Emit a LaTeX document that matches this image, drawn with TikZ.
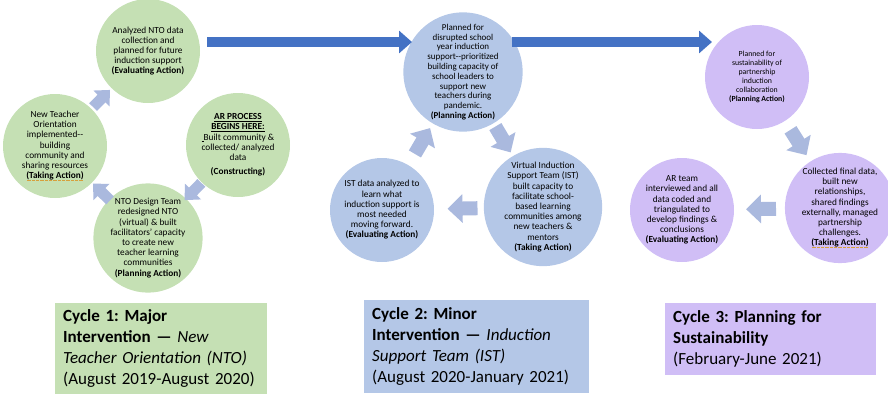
\documentclass[tikz,border=0pt]{standalone}
\usepackage{fontspec}
\setmainfont{Carlito}
\usetikzlibrary{arrows.meta,calc}
\frenchspacing

\definecolor{cyclegreen}{RGB}{197,224,180}
\definecolor{cycleblue}{RGB}{180,199,231}
\definecolor{cyclepurple}{RGB}{208,190,246}
\definecolor{flowblue}{RGB}{68,114,196}
\definecolor{stepgrey}{RGB}{170,185,222}
\definecolor{spellmark}{RGB}{214,160,60}

% dotted squiggle under a word
\newsavebox\spellbox
\newcommand{\spellcheck}[1]{\sbox\spellbox{#1}%
  \rlap{\raisebox{-2.2pt}{\color{spellmark}\hbox to \wd\spellbox{\leaders\hbox to 1.3pt{\hss\rule{0.7pt}{0.7pt}\hss}\hfill}}}%
  \usebox\spellbox}

\tikzset{
  stage/.style={circle, minimum size=104pt, inner sep=0pt, align=center,
    font=\fontsize{9.3}{10.2}\selectfont},
  cyclebox/.style={anchor=north west, inner xsep=8pt, inner ysep=0pt, align=left,
    font=\fontsize{17}{21}\selectfont},
  flowarrow/.style={draw=flowblue, line width=10pt, -{Triangle[length=13pt, width=22pt]}},
  steparrow/.style={draw=stepgrey, line width=14pt, -{Triangle[length=15pt, width=28pt]},
    to path={($(\tikztostart)!0.5!(\tikztotarget)!15pt!(\tikztostart)$)
      -- ($(\tikztostart)!0.5!(\tikztotarget)!15pt!(\tikztotarget)$)}},
  smallsteparrow/.style={steparrow, line width=11pt, -{Triangle[length=12pt, width=22pt]},
    to path={($(\tikztostart)!0.5!(\tikztotarget)!12pt!(\tikztostart)$)
      -- ($(\tikztostart)!0.5!(\tikztotarget)!12pt!(\tikztotarget)$)}}
}

\begin{document}
\begin{tikzpicture}[x=1pt, y=-1pt]
\useasboundingbox (0,0) rectangle (888,394);

% cycle 1
\node[stage, fill=cyclegreen] (c1t) at (148,51) {Analyzed NTO data\\collection and\\planned for future\\induction support\\\textbf{(Evaluating Action)}};
\node[stage, fill=cyclegreen] (c1r) at (238,145) {\textbf{\underline{AR PROCESS}}\\\textbf{\underline{BEGINS HERE:}}\\\underline{\hspace{2pt}}Built community \&\\collected/ analyzed\\data\\[4pt]\textbf{(Constructing)}};
\node[stage, fill=cyclegreen] (c1l) at (55,146) {New Teacher\\Orientation\\implemented-{}-\\building\\community and\\sharing resources\\\spellcheck{\textbf{(Taking Action)}}};
\node[stage, fill=cyclegreen] (c1b) at (148,238) {NTO Design Team\\redesigned NTO\\(virtual) \& built\\facilitators' capacity\\to create new\\teacher learning\\communities\\\textbf{(Planning Action)}};

\draw[smallsteparrow] (c1r) to (c1b);
\draw[smallsteparrow] (c1b) to (c1l);
\draw[smallsteparrow] (c1l) to (c1t);

% cycle 2
\node[stage, fill=cycleblue, font=\fontsize{9}{9.8}\selectfont] (c2t) at (463,72) {Planned for\\disrupted school\\year induction\\support-{}-prioritized\\building capacity of\\school leaders to\\support new\\teachers during\\pandemic.\\\textbf{(Planning Action)}};
\node[stage, fill=cycleblue] (c2r) at (543,207) {Virtual Induction\\Support Team (IST)\\built capacity to\\facilitate school-\\based learning\\communities among\\new teachers \&\\mentors\\\textbf{(Taking Action)}};
\node[stage, fill=cycleblue] (c2l) at (382,210) {IST data analyzed to\\learn what\\induction support is\\most needed\\moving forward.\\\textbf{(Evaluating Action)}};

\draw[steparrow] (c2t) to (c2r);
\draw[steparrow] (c2r) to (c2l);
\draw[steparrow] (c2l) to (c2t);

% cycle 3
\node[stage, fill=cyclepurple, font=\fontsize{7.8}{9}\selectfont] (c3t) at (757,77) {Planned for\\sustainability of\\partnership\\induction\\collaboration\\\textbf{(Planning Action)}};
\node[stage, fill=cyclepurple] (c3r) at (840,208) {Collected final data,\\built new\\relationships,\\shared findings\\externally, managed\\partnership\\challenges.\\\spellcheck{\textbf{(Taking Action)}}};
\node[stage, fill=cyclepurple] (c3l) at (682,210) {AR team\\interviewed and all\\data coded and\\triangulated to\\develop findings \&\\conclusions\\\textbf{(Evaluating Action)}};

\draw[steparrow] (c3t) to (c3r);
\draw[steparrow] (c3r) to (c3l);

% arrows between the cycles
\coordinate (flow1s) at (207,42);
\coordinate (flow1e) at (412,42);
\coordinate (flow2s) at (512,42);
\coordinate (flow2e) at (712,42);
\draw[flowarrow] (flow1s) -- (flow1e);
\draw[flowarrow] (flow2s) -- (flow2e);

% cycle labels
\node[cyclebox, fill=cyclegreen, text width=196pt, minimum height=91pt] (box1) at (55,303)
  {\textbf{Cycle 1: Major}\\\textbf{Intervention —} \textit{New}\\\textit{Teacher Orientation (NTO)}\\(August 2019-August 2020)};
\node[cyclebox, fill=cycleblue, text width=209pt, minimum height=93pt] (box2) at (364,300)
  {\textbf{Cycle 2: Minor}\\\textbf{Intervention —} \textit{Induction}\\\textit{Support Team (IST)}\\(August 2020-January 2021)};
\node[cyclebox, fill=cyclepurple, text width=195pt, minimum height=72pt] (box3) at (665,303)
  {\textbf{Cycle 3: Planning for}\\\textbf{Sustainability}\\(February-June 2021)};
\end{tikzpicture}
\end{document}
